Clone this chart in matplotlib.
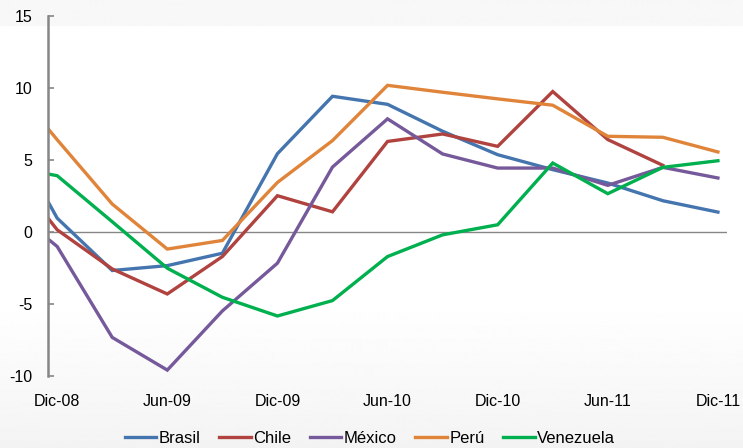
import numpy as np
import matplotlib
matplotlib.use('Agg')
import matplotlib.pyplot as plt
from matplotlib.colors import LinearSegmentedColormap

plt.rcParams['font.family'] = ['Liberation Sans', 'DejaVu Sans']
plt.rcParams['axes.unicode_minus'] = False  # guion corto en "-5", "-10"

# meses desde Dic-08 (el primer punto queda en el borde del eje)
meses = [-0.5, 0, 3, 6, 9, 12, 15, 18, 21, 24, 27, 30, 33, 36]
etiquetas_x = ['Dic-08', 'Jun-09', 'Dic-09', 'Jun-10', 'Dic-10', 'Jun-11', 'Dic-11']
ticks_x = [0, 6, 12, 18, 24, 30, 36]

brasil = [2.1, 0.95, -2.69, -2.35, -1.49, 5.43, 9.42, 8.86, 6.99, 5.36, 4.32, 3.39, 2.16, 1.37]
chile = [0.95, 0.14, -2.58, -4.32, -1.72, 2.51, 1.39, 6.28, 6.8, 5.94, 9.75, 6.41, 4.62, np.nan]
mexico = [-0.5, -1.02, -7.34, -9.61, -5.5, -2.18, 4.5, 7.85, 5.41, 4.43, 4.43, 3.23, 4.48, 3.74]
peru = [7.17, 6.4, 1.93, -1.2, -0.6, 3.43, 6.34, 10.18, 9.7, 9.24, 8.8, 6.64, 6.57, 5.55]
venezuela = [4.02, 3.9, 0.7, -2.53, -4.55, -5.85, -4.78, -1.72, -0.21, 0.49, 4.78, 2.65, 4.48, 4.94]

series = [('Brasil', brasil, '#4575ae'),
          ('Chile', chile, '#b0433f'),
          ('México', mexico, '#76599a'),
          ('Perú', peru, '#e0843a'),
          ('Venezuela', venezuela, '#00b04f')]

fig = plt.figure(figsize=(7.43, 4.48), dpi=100)

# fondo con un degradado suave como en la captura
bg = fig.add_axes([0, 0, 1, 1], zorder=-10)
grad = np.ones(448)
grad[:27] = 0.97
grad[300:] = np.linspace(1.0, 0.955, 148)
cmap = LinearSegmentedColormap.from_list('g', ['#000000', '#ffffff'])
bg.imshow(grad.reshape(-1, 1), aspect='auto', cmap=cmap, vmin=0, vmax=1,
          extent=[0, 1, 0, 1])
bg.axis('off')

ax = fig.add_axes([0.0646, 0.1614, 0.914, 0.8029])
ax.patch.set_alpha(0)

for nombre, valores, color in series:
    ax.plot(meses, valores, color=color, lw=2.4, label=nombre, solid_joinstyle='miter')

ax.axhline(0, color='#868686', lw=1.0, zorder=0)

ax.set_xlim(-0.5, 36.5)
ax.set_ylim(-10, 15)
ax.set_yticks([-10, -5, 0, 5, 10, 15])
ax.set_xticks(ticks_x)
ax.set_xticklabels(etiquetas_x)

for lado in ['top', 'right', 'bottom']:
    ax.spines[lado].set_visible(False)
ax.spines['left'].set_color('#868686')
ax.spines['left'].set_linewidth(1.8)

ax.tick_params(axis='y', direction='in', length=4, width=1.2, color='#868686',
               labelsize=11.5, pad=11)
ax.tick_params(axis='x', length=0, labelsize=11.5, pad=13)

ax.legend(loc='upper center', bbox_to_anchor=(0.474, -0.135), ncol=5, frameon=False,
          fontsize=12, handlelength=1.9, handletextpad=0.15, columnspacing=1.1,
          borderaxespad=0)

plt.savefig('out.png', dpi=100)
